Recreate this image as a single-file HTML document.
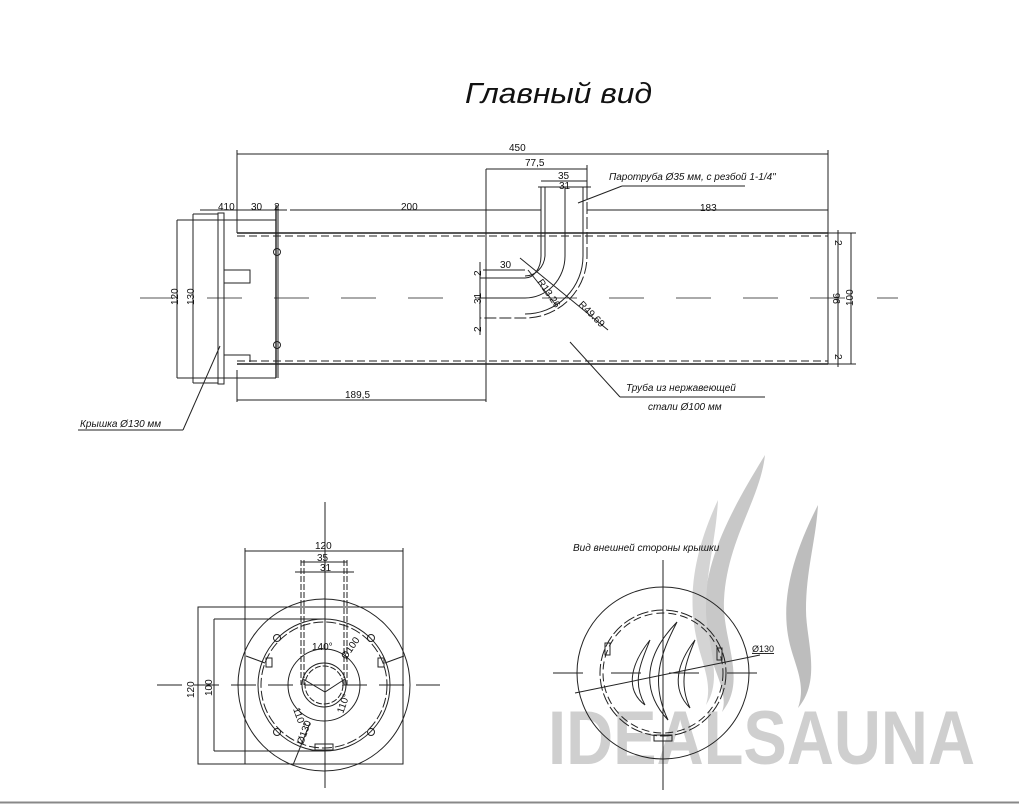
<!DOCTYPE html>
<html><head><meta charset="utf-8"><style>
html,body{margin:0;padding:0;background:#fff;}
svg{display:block;}
text{font-family:"Liberation Sans",sans-serif;fill:#111;}
</style></head><body>
<svg width="1019" height="804" viewBox="0 0 1019 804" xmlns="http://www.w3.org/2000/svg">
<g fill="#c8c8c8">
<path d="M765 455 C725 520 700 570 705 630 C708 665 730 690 722 712 C748 680 722 640 724 600 C727 540 760 500 765 455Z"/>
<path d="M718 500 C690 560 688 605 698 645 C704 668 712 685 706 705 C724 678 706 640 706 610 C706 570 716 540 718 500Z" fill="#d4d4d4"/>
<path d="M818 505 C790 560 780 605 790 645 C796 668 806 685 798 708 C822 680 806 640 806 610 C806 570 816 540 818 505Z" fill="#bdbdbd"/>
</g>
<text x="548" y="764" font-size="76" font-weight="bold" textLength="427" lengthAdjust="spacingAndGlyphs" style="fill:#cfcfcf">IDEALSAUNA</text>
<line x1="0" y1="802.5" x2="1019" y2="802.5" stroke="#888" stroke-width="2"/>

<text x="465" y="103" font-size="29" font-style="italic" textLength="187" lengthAdjust="spacingAndGlyphs">Главный вид</text>

<g stroke="#222" stroke-width="1" fill="none">
<line x1="140" y1="298" x2="898" y2="298" stroke="#555" stroke-dasharray="35,32"/>
<line x1="237" y1="233" x2="828" y2="233" stroke-width="1.6"/>
<line x1="237" y1="236" x2="828" y2="236" stroke-dasharray="8,4"/>
<line x1="237" y1="364" x2="828" y2="364" stroke-width="1.6"/>
<line x1="237" y1="361" x2="828" y2="361" stroke-dasharray="8,4"/>
<line x1="237" y1="150" x2="237" y2="233"/>
<line x1="237" y1="370" x2="237" y2="402"/>
<line x1="828" y1="150" x2="828" y2="364"/>
<rect x="218" y="213" width="6" height="171"/>
<line x1="193" y1="214" x2="218" y2="214"/>
<line x1="193" y1="383" x2="218" y2="383"/>
<line x1="193" y1="214" x2="193" y2="383"/>
<line x1="177" y1="220" x2="276" y2="220"/>
<line x1="177" y1="378" x2="276" y2="378"/>
<line x1="177" y1="220" x2="177" y2="378"/>
<line x1="276" y1="205" x2="276" y2="378" stroke-width="1.4"/>
<line x1="278" y1="205" x2="278" y2="378"/>
<circle cx="277" cy="252" r="3.5"/>
<circle cx="277" cy="345" r="3.5"/>
<rect x="224" y="270" width="26" height="13"/>
<polyline points="224,355 250,355 250,362"/>
<line x1="200" y1="210" x2="287" y2="210"/>
<line x1="237" y1="154" x2="828" y2="154"/>
<line x1="486" y1="169" x2="587" y2="169"/>
<line x1="486" y1="169" x2="486" y2="402"/>
<line x1="587" y1="165" x2="587" y2="187"/>
<line x1="541" y1="181" x2="587" y2="181"/>
<line x1="538" y1="187" x2="591" y2="187"/>
<line x1="290" y1="210" x2="541" y2="210"/>
<line x1="587" y1="210" x2="828" y2="210"/>
<line x1="237" y1="400" x2="486" y2="400"/>
<path d="M541 187 V256 A16 22 0 0 1 525 278 H480"/>
<path d="M545 187 V256 A20 22 0 0 1 525 276"/>
<path d="M587 187 V256 A62 62 0 0 1 525 318 H480" stroke-dasharray="12,3"/>
<path d="M583 187 V256 A58 58 0 0 1 525 314"/>
<path d="M565 187 V256 A40 42 0 0 1 525 298 H478"/>
<line x1="480" y1="262" x2="480" y2="335"/>
<line x1="483" y1="270" x2="525" y2="270"/>
<line x1="520" y1="258" x2="608" y2="330"/>
<line x1="528" y1="270" x2="556" y2="305"/>
<line x1="838" y1="230" x2="838" y2="367"/>
<line x1="828" y1="233" x2="856" y2="233"/>
<line x1="828" y1="364" x2="856" y2="364"/>
<line x1="851" y1="233" x2="851" y2="364"/>
<line x1="578" y1="203" x2="622" y2="186"/>
<line x1="622" y1="186" x2="745" y2="186"/>
<line x1="570" y1="342" x2="620" y2="397"/>
<line x1="620" y1="397" x2="765" y2="397"/>
<line x1="220" y1="346" x2="183" y2="430"/>
<line x1="78" y1="430" x2="183" y2="430"/>
</g>
<g font-size="10">
<text x="509" y="151">450</text>
<text x="525" y="166">77,5</text>
<text x="558" y="179">35</text>
<text x="559" y="189">31</text>
<text x="218" y="210">410</text>
<text x="251" y="210">30</text>
<text x="274" y="210">2</text>
<text x="401" y="210">200</text>
<text x="700" y="211">183</text>
<text x="345" y="398">189,5</text>
<text x="500" y="268">30</text>
<text x="609" y="180" font-style="italic">Паротруба Ø35 мм, с резбой 1-1/4"</text>
<text x="626" y="391" font-style="italic">Труба из нержавеющей</text>
<text x="648" y="410" font-style="italic">стали Ø100 мм</text>
<text x="80" y="427" font-style="italic">Крышка Ø130 мм</text>
<text transform="translate(178,305) rotate(-90)">120</text>
<text transform="translate(194,305) rotate(-90)">130</text>
<text transform="translate(840,304) rotate(-90)">96</text>
<text transform="translate(853,306) rotate(-90)">100</text>
<text transform="translate(481,276) rotate(-90)">2</text>
<text transform="translate(481,304) rotate(-90)">31</text>
<text transform="translate(481,332) rotate(-90)">2</text>
<text transform="translate(835,240) rotate(90)">2</text>
<text transform="translate(835,354) rotate(90)">2</text>
<text transform="translate(537,282) rotate(55)">R13.26</text>
<text transform="translate(578,305) rotate(45)">R49.69</text>
</g>

<g stroke="#222" stroke-width="1" fill="none">
<line x1="325" y1="502" x2="325" y2="788"/>
<line x1="157" y1="685" x2="440" y2="685" stroke-dasharray="25,12"/>
<circle cx="324" cy="685" r="86"/>
<circle cx="324" cy="685" r="66"/>
<circle cx="324" cy="685" r="63" stroke-dasharray="10,3"/>
<circle cx="324" cy="685" r="36"/>
<circle cx="324" cy="685" r="22"/>
<circle cx="324" cy="685" r="19" stroke-dasharray="6,2"/>
<rect x="198" y="607" width="205" height="157"/>
<line x1="214" y1="619" x2="325" y2="619"/>
<line x1="214" y1="751" x2="325" y2="751"/>
<line x1="214" y1="619" x2="214" y2="751"/>
<line x1="245" y1="548" x2="245" y2="764"/>
<line x1="245" y1="551" x2="403" y2="551"/>
<line x1="403" y1="548" x2="403" y2="607"/>
<line x1="301" y1="562" x2="347" y2="562"/>
<line x1="295" y1="572" x2="354" y2="572"/>
<line x1="301" y1="560" x2="301" y2="685" stroke-dasharray="6,2"/>
<line x1="304" y1="560" x2="304" y2="685" stroke-dasharray="6,2"/>
<line x1="347" y1="560" x2="347" y2="685" stroke-dasharray="6,2"/>
<line x1="344" y1="560" x2="344" y2="685" stroke-dasharray="6,2"/>
<circle cx="277" cy="638" r="3.5"/><circle cx="371" cy="638" r="3.5"/>
<circle cx="277" cy="732" r="3.5"/><circle cx="371" cy="732" r="3.5"/>
<rect x="266" y="658" width="6" height="9"/><rect x="378" y="658" width="6" height="9"/>
<rect x="315" y="744" width="18" height="6"/>
<polyline points="303,679 325,692 345,679"/>
<line x1="246" y1="656" x2="265" y2="663"/>
<line x1="404" y1="656" x2="385" y2="663"/>
<line x1="310" y1="723" x2="293" y2="765"/>
</g>
<g font-size="10">
<text x="315" y="549">120</text>
<text x="317" y="561">35</text>
<text x="320" y="571">31</text>
<text x="312" y="650">140°</text>
<text transform="translate(194,698) rotate(-90)">120</text>
<text transform="translate(212,696) rotate(-90)">100</text>
<text transform="translate(346,660) rotate(-55)">Ø100</text>
<text transform="translate(293,709) rotate(70)">110°</text>
<text transform="translate(343,714) rotate(-70)">110°</text>
<text transform="translate(303,745) rotate(-70)">Ø130</text>
</g>

<text x="573" y="551" font-size="10" font-style="italic">Вид внешней стороны крышки</text>
<g stroke="#222" stroke-width="1" fill="none">
<line x1="663" y1="560" x2="663" y2="790"/>
<line x1="553" y1="673" x2="780" y2="673" stroke-dasharray="30,28"/>
<circle cx="663" cy="673" r="86"/>
<circle cx="663" cy="673" r="63" stroke-dasharray="12,3"/>
<circle cx="663" cy="673" r="60" stroke-dasharray="8,4"/>
<rect x="605" y="643" width="5" height="12"/><rect x="717" y="648" width="5" height="12"/>
<rect x="654" y="735" width="18" height="6"/>
<line x1="575" y1="693" x2="760" y2="655"/>
<path d="M650 640 C630 665 625 690 645 705 C632 682 640 665 650 640Z"/>
<path d="M677 622 C645 655 640 690 668 720 C650 682 660 655 677 622Z"/>
<path d="M695 640 C678 662 670 688 690 708 C678 682 686 662 695 640Z"/>
</g>
<text x="752" y="652" font-size="9" text-decoration="underline">Ø130</text>
</svg>
</body></html>
